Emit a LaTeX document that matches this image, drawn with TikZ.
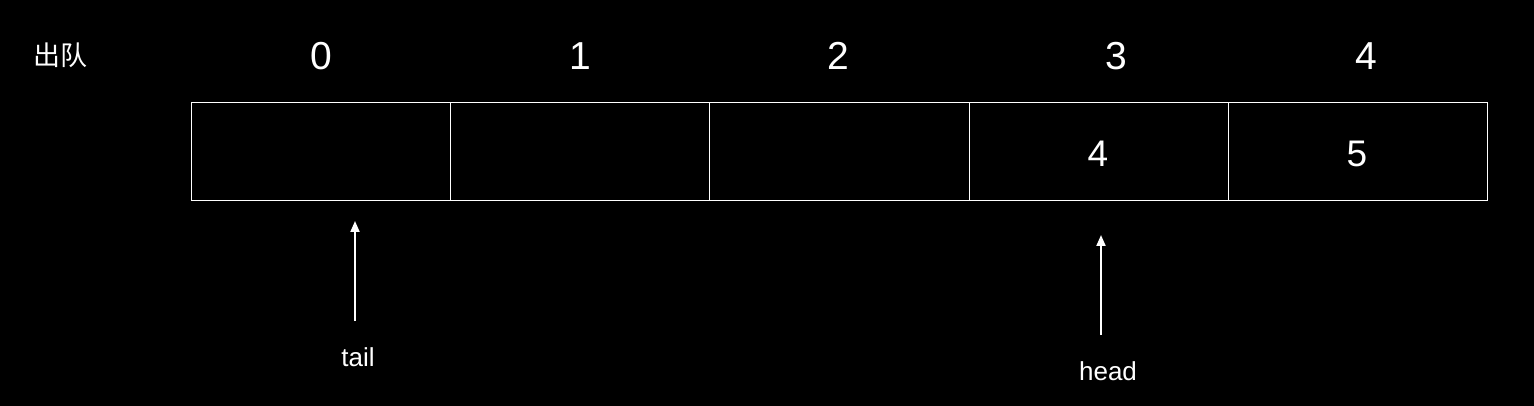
\documentclass[tikz,border=0pt]{standalone}
\usepackage{fontspec}
\setmainfont{Liberation Sans}
\newfontfamily\cjk{Noto Sans CJK SC}
\usetikzlibrary{arrows.meta}
\begin{document}
\begin{tikzpicture}[x=1pt,y=-1pt,
  cell/.style={draw=white,line width=1pt,minimum width=259.2pt,minimum height=98pt,inner sep=0pt,anchor=north west},
  idx/.style={text=white,font=\fontsize{39}{39}\selectfont,inner sep=0pt},
  val/.style={text=white,font=\fontsize{37}{37}\selectfont,inner sep=0pt},
  lbl/.style={text=white,font=\fontsize{26}{26}\selectfont,inner sep=0pt},
  ptr/.style={draw=white,line width=2pt,-{Triangle[length=11pt,width=9pt]}}]
\fill[black] (0,0) rectangle (1534,406);
\useasboundingbox (0,0) rectangle (1534,406);
\node[text=white,inner sep=0pt,font=\cjk\fontsize{27}{27}\selectfont] (deq) at (60,55) {出队};
\node[cell] (c0) at (191,102) {};
\node[cell] (c1) at (450.2,102) {};
\node[cell] (c2) at (709.4,102) {};
\node[cell] (c3) at (968.6,102) {};
\node[cell] (c4) at (1227.8,102) {};
\node[idx] (i0) at (321,56) {0};
\node[idx] (i1) at (580,56) {1};
\node[idx] (i2) at (838,56) {2};
\node[idx] (i3) at (1116,56) {3};
\node[idx] (i4) at (1366,56) {4};
\node[val] (v3) at (1098,154) {4};
\node[val] (v4) at (1357,154) {5};
\coordinate (ta) at (355,221);
\coordinate (tb) at (355,321);
\coordinate (ha) at (1101,235);
\coordinate (hb) at (1101,335);
\draw[ptr] (tb) -- (ta);
\draw[ptr] (hb) -- (ha);
\node[lbl] (tail) at (358,357) {tail};
\node[lbl] (head) at (1108,371) {head};
\end{tikzpicture}
\end{document}
